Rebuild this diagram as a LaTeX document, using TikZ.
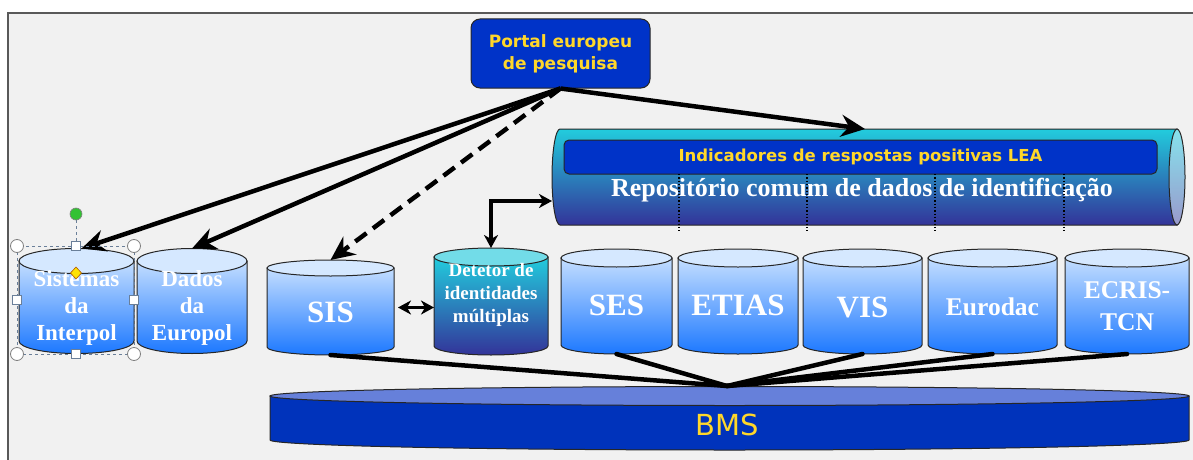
\documentclass[tikz,border=0pt]{standalone}
\usepackage{fontspec}
\setmainfont{Liberation Serif}
\newfontfamily\tahoma{DejaVu Sans}
\usetikzlibrary{arrows.meta}

\definecolor{panelgray}{HTML}{F1F1F1}
\definecolor{portalblue}{HTML}{0033C8}
\definecolor{goldtext}{HTML}{FFD72A}
\definecolor{lidblue}{HTML}{D5E8FF}
\definecolor{cyllight}{HTML}{C4DEFF}
\definecolor{cyldark}{HTML}{1C78FF}
\definecolor{repocyan}{HTML}{22CCDD}
\definecolor{repomid}{HTML}{2A80C0}
\definecolor{repoindigo}{HTML}{333399}
\definecolor{mdilid}{HTML}{72DCE8}
\definecolor{bmstop}{HTML}{6680DA}
\definecolor{bmsbody}{HTML}{0033BB}
\definecolor{handlegray}{HTML}{6A7F99}

\tikzset{
  plaincyl/.style={top color=cyllight, bottom color=cyldark, draw=black!85, line width=1pt},
  plainlid/.style={fill=lidblue, draw=black!85, line width=1pt},
  mdicyl/.style={top color=repocyan, bottom color=repoindigo, draw=black!85, line width=1pt},
  mdilid/.style={fill=mdilid, draw=black!85, line width=1pt},
  dblabel/.style={text=white, font=\bfseries\fontsize{31}{32}\selectfont, align=center, inner sep=0pt},
  dbmid/.style={dblabel, font=\bfseries\fontsize{25.5}{32}\selectfont},
  dbsmall/.style={dblabel, font=\bfseries\fontsize{23}{27}\selectfont},
  mdilabel/.style={dblabel, font=\bfseries\fontsize{19}{23}\selectfont},
  portalbox/.style={fill=portalblue, draw=black!85, line width=1pt, rounded corners=9pt,
    minimum width=179pt, minimum height=69pt, text=goldtext, align=center,
    font=\tahoma\bfseries\fontsize{17}{22}\selectfont},
  leabox/.style={fill=portalblue, draw=black!85, line width=1pt, rounded corners=5pt,
    minimum width=593pt, minimum height=34pt, text=goldtext,
    font=\tahoma\bfseries\fontsize{16.5}{20}\selectfont},
  thickarrow/.style={line width=4.5pt, -{Stealth[length=24pt,width=22pt,inset=8pt]}},
  linkarrow/.style={line width=3.5pt, {Stealth[length=13pt,width=14pt,inset=4pt]}-{Stealth[length=13pt,width=14pt,inset=4pt]}},
  busline/.style={line width=4.5pt, line cap=round},
}

% #1 look, #2 name, #3/#4 left/right x, #5/#6 lid/base centre y, #7 rim half height
\newcommand\dbcyl[7][plain]{%
  \path[#1cyl] (#3,#5) -- (#3,#6) arc[start angle=180,end angle=360,x radius={(#4-#3)/2},y radius=#7] -- (#4,#5) -- cycle;
  \path[#1lid] ({(#3+#4)/2},#5) ellipse[x radius={(#4-#3)/2},y radius=#7];
  \coordinate (#2-top) at ({(#3+#4)/2},#5+#7);
  \coordinate (#2-bot) at ({(#3+#4)/2},#6-#7);
  \coordinate (#2-w) at (#3,{(#5+#6)/2});
  \coordinate (#2-e) at (#4,{(#5+#6)/2});
}

\begin{document}
\begin{tikzpicture}[x=1pt,y=1pt]
  \useasboundingbox (0,0) rectangle (1193,459);
  \draw[line width=1.5pt, draw=black!65, fill=panelgray] (8,-10) rectangle (1210,446);

  % portal
  \node[portalbox] (portal) at (560.5,405.5) {Portal europeu\\de pesquisa};

  % shared repository
  \path[top color=repocyan, middle color=repomid, bottom color=repoindigo, draw=black!85, line width=1pt]
    (560,330) arc[start angle=90,end angle=270,x radius=8,y radius=48] -- (1177,234) -- (1177,330) -- cycle;
  \path[top color=repocyan!55!white, bottom color=repoindigo!50!white, draw=black!85, line width=1pt]
    (1177,282) ellipse[x radius=8,y radius=48];
  \coordinate (repo-top) at (865,330);
  \coordinate (repo-left) at (552,258);
  \node[leabox] (lea) at (860.5,302) {Indicadores de respostas positivas LEA};
  \node[text=white, font=\bfseries\fontsize{26}{28}\selectfont] (repo) at (862,269)
    {Repositório comum de dados de identificação};
  \foreach \x in {679,807,935,1064}
    \draw[dotted, line width=1.3pt] (\x,285) -- (\x,226);

  % databases
  \dbcyl{interpol}{19}{134}{198}{118}{12.5}
  \dbcyl{europol}{137}{247}{198}{118}{12.5}
  \dbcyl{sis}{267}{394}{191}{112}{8}
  \dbcyl[mdi]{mdi}{434}{548}{202}{113}{9}
  \dbcyl{ses}{561}{672}{201}{114}{9}
  \dbcyl{etias}{678}{798}{201}{114}{9}
  \dbcyl{vis}{803}{922}{201}{114}{9}
  \dbcyl{eurodac}{928}{1057}{201}{114}{9}
  \dbcyl{ecris}{1065}{1189}{201}{114}{9}

  \node[dbsmall] (interpol-text) at (76.5,151) {Sistemas\\da\\Interpol};
  \node[dbsmall] (europol-text) at (192,151) {Dados\\da\\Europol};
  \node[dblabel] (sis-text) at (330.5,147) {SIS};
  \node[mdilabel] (mdi-text) at (491,164) {Detetor de\\identidades\\múltiplas};
  \node[dblabel] (ses-text) at (616.5,154) {SES};
  \node[dblabel] (etias-text) at (738,154) {ETIAS};
  \node[dblabel] (vis-text) at (862.5,152) {VIS};
  \node[dbmid] (eurodac-text) at (992.5,152) {Eurodac};
  \node[dbmid] (ecris-text) at (1127,153) {ECRIS-\\TCN};

  % BMS
  \path[fill=bmsbody, draw=black!85, line width=1pt]
    (270,63) -- (270,19) arc[start angle=180,end angle=360,x radius=459.5,y radius=10] -- (1189,63) -- cycle;
  \path[fill=bmstop, draw=black!85, line width=1pt] (729.5,63) ellipse[x radius=459.5,y radius=9.5];
  \coordinate (bms-top) at (727,73);
  \node[text=goldtext, font=\tahoma\fontsize{29}{30}\selectfont] (bms) at (727,34) {BMS};

  \foreach \db in {sis,ses,vis,eurodac,ecris}
    \draw[busline] (\db-bot) -- (bms-top);

  % arrows
  \draw[thickarrow] (portal.south) -- ([xshift=5pt]interpol-top);
  \draw[thickarrow] (portal.south) -- (europol-top);
  \draw[thickarrow, dash pattern=on 14pt off 8pt] (portal.south) -- (sis-top);
  \draw[thickarrow] (portal.south) -- (repo-top);
  \draw[linkarrow, shorten <=4pt] (sis-e) -- (sis-e -| mdi-w);
  \draw[linkarrow] (mdi-top) |- (repo-left);

  % selection handles
  \draw[dashed, draw=handlegray, line width=0.9pt] (17,213) rectangle (134,105);
  \draw[dashed, draw=handlegray, line width=0.9pt] (76,245) -- (76,213);
  \foreach \p in {(17,213),(134,213),(17,105),(134,105)}
    \draw[fill=white, draw=gray, line width=0.8pt] \p circle (6.5);
  \foreach \p in {(76,213),(76,105),(17,159),(134,159)}
    \draw[fill=white, draw=handlegray, line width=0.8pt] \p +(-4.5,-4.5) rectangle +(4.5,4.5);
  \draw[fill=green!70!black!80, draw=gray, line width=0.6pt] (76,245) circle (6);
  \draw[fill=yellow!85!orange, draw=orange!70!black, line width=0.6pt]
    (76,192) -- (81.5,186) -- (76,180) -- (70.5,186) -- cycle;
\end{tikzpicture}
\end{document}
